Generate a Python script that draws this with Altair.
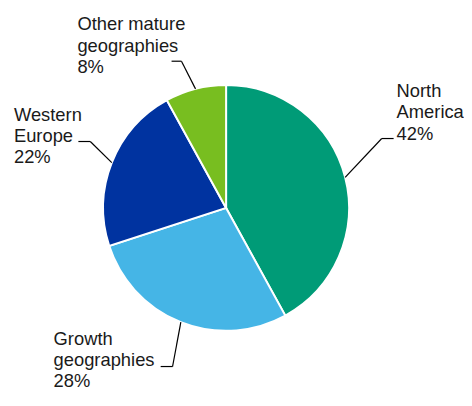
import math
import altair as alt
import pandas as pd

# ---- data ----
categories = ["North America", "Growth geographies", "Western Europe", "Other mature geographies"]
label_names = ["North\nAmerica", "Growth\ngeographies", "Western\nEurope", "Other mature\ngeographies"]
shares = [42, 28, 22, 8]
colors = ["#009B77", "#45B5E6", "#0033A0", "#78BE20"]

# label layout (chart pixel coordinates)
text_x = [392, 46, 6, 70]
text_y = [88, 338, 112, 21]
elbow_x = [377, 166, 83, 175]
elbow_y = [130, 360, 133, 52]
end_x = [389, 154, 71, 165]

W, H = 460, 382
CX, CY, R = 220, 200, 124

df = pd.DataFrame({
    "category": categories,
    "share": shares,
    "order": list(range(len(categories))),
})

# leader start points at slice mid-angles on the rim
total = sum(shares)
cum = 0
sx, sy = [], []
for s in shares:
    mid = (cum + s / 2) / total * 2 * math.pi
    sx.append(CX + R * math.sin(mid))
    sy.append(CY - R * math.cos(mid))
    cum += s

labels = pd.DataFrame({
    "text": [f"{n}\n{s}%" for n, s in zip(label_names, shares)],
    "tx": text_x, "ty": text_y,
})
leaders = pd.DataFrame({
    "x": sx + elbow_x,
    "y": sy + elbow_y,
    "x2": elbow_x + end_x,
    "y2": elbow_y + elbow_y,
})

xs = alt.Scale(domain=[0, W], range=[0, W])
ys = alt.Scale(domain=[0, H], range=[0, H])

pie = alt.Chart(df).mark_arc(outerRadius=R, stroke="white", strokeWidth=2).encode(
    theta=alt.Theta("share:Q", stack=True),
    order=alt.Order("order:Q"),
    color=alt.Color("category:N", scale=alt.Scale(domain=categories, range=colors), legend=None),
    x=alt.value(CX),
    y=alt.value(CY),
)

rules = alt.Chart(leaders).mark_rule(color="black", strokeWidth=1.2).encode(
    x=alt.X("x:Q", scale=xs, axis=None),
    y=alt.Y("y:Q", scale=ys, axis=None),
    x2="x2:Q",
    y2="y2:Q",
)

texts = alt.Chart(labels).mark_text(
    align="left", baseline="alphabetic", fontSize=18.5, lineHeight=21.5,
    font="Liberation Sans", color="#1a1a1a", lineBreak="\n",
).encode(
    x=alt.X("tx:Q", scale=xs, axis=None),
    y=alt.Y("ty:Q", scale=ys, axis=None),
    text="text:N",
)

chart = alt.layer(pie, rules, texts).properties(
    width=W, height=H, padding=0, autosize=alt.AutoSizeParams(type="none")
).configure_view(stroke=None)

chart.save("out.html", embed_options={"renderer": "svg", "actions": False})
